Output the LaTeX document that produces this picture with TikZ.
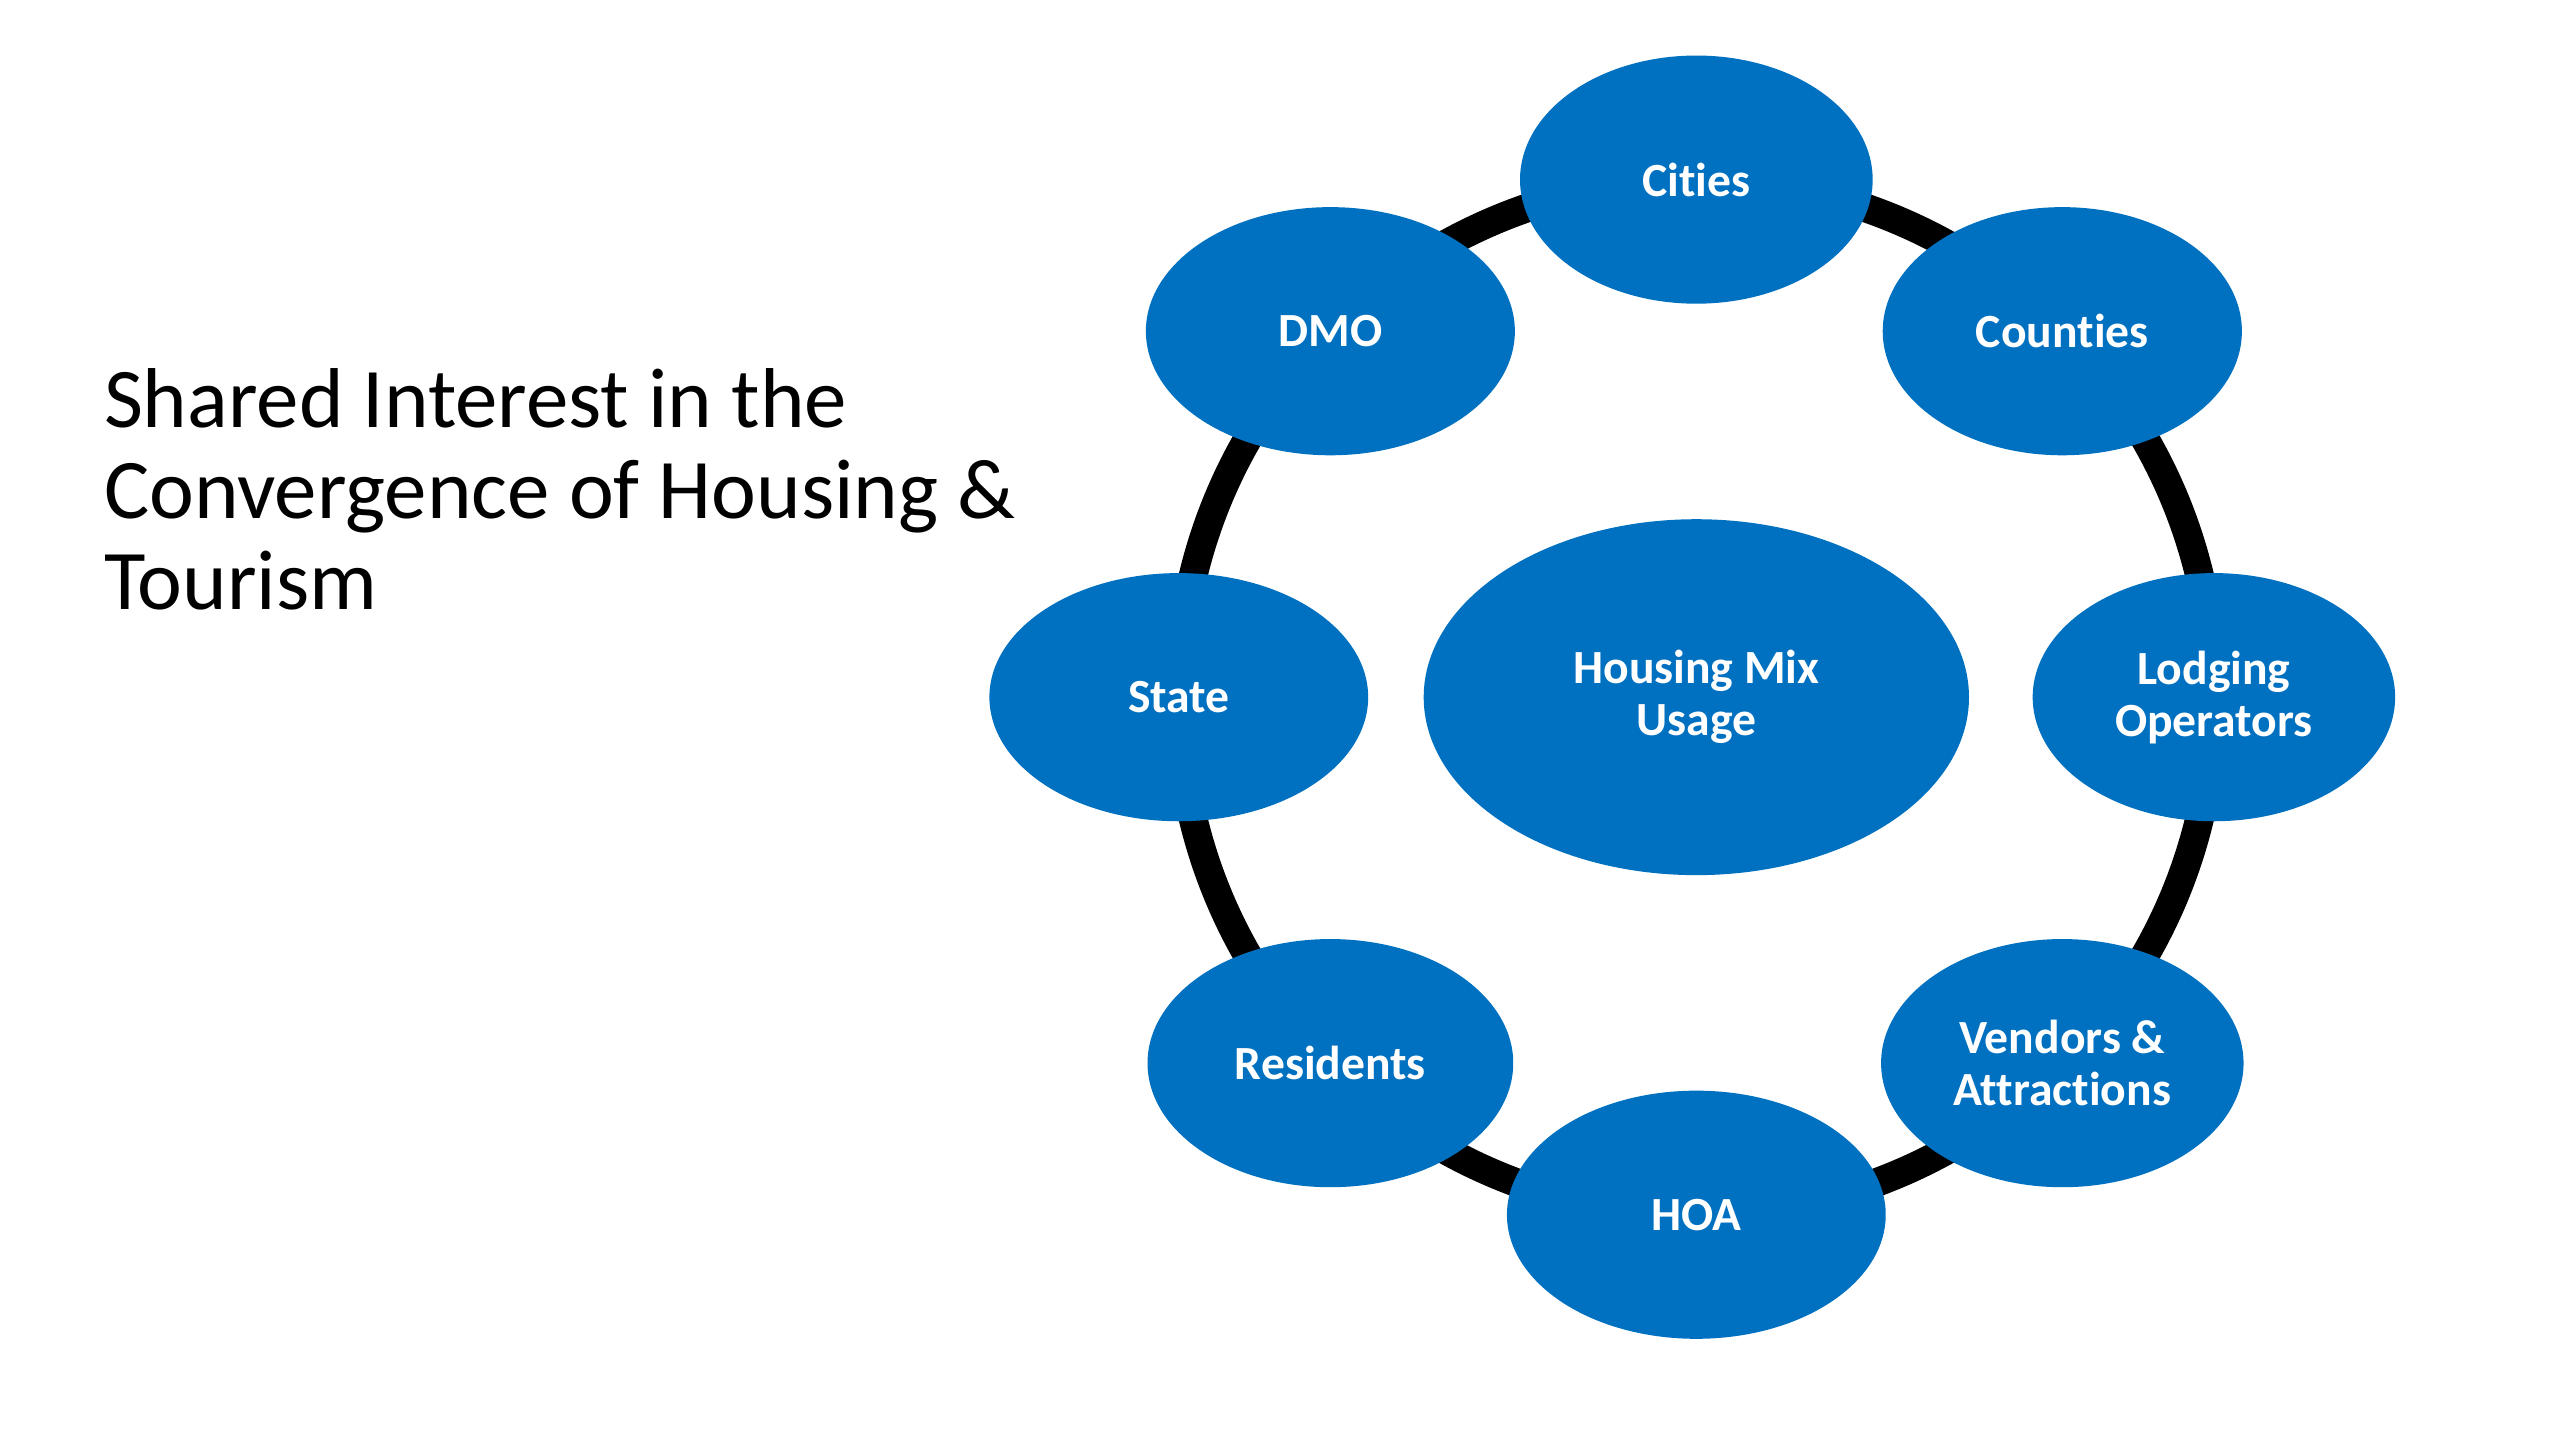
\documentclass[tikz,border=0pt]{standalone}
\usepackage{fontspec}
\setmainfont{Carlito}[Ligatures=NoCommon]
\usepackage{tikz}
\usepackage{xcolor}
\usetikzlibrary{calc,positioning,shapes.geometric}
\definecolor{ringblue}{RGB}{0,112,192}

\begin{document}
\begin{tikzpicture}[
  blob/.style={ellipse,fill=ringblue,draw=none,inner sep=0pt,minimum height=1.52cm,
    text=white,align=center,font=\fontsize{8.3}{9.1}\selectfont\bfseries},
]
  \useasboundingbox (0,0) rectangle (15.68,-8.82);
  \coordinate (hub) at (10.39,-4.27);
  % ring behind the partners
  \draw[line width=5pt] (hub) circle (3.17);
  \node[blob,minimum width=3.34cm,minimum height=2.18cm] (mix) at (hub) {Housing Mix\\Usage};
  \node[blob,minimum width=2.16cm] (cities)   at ([shift={(90:3.17)}]hub)  {Cities};
  \node[blob,minimum width=2.20cm] (counties) at ([shift={(45:3.17)}]hub)  {Counties};
  \node[blob,minimum width=2.22cm] (lodging)  at ([shift={(0:3.17)}]hub)   {Lodging\\Operators};
  \node[blob,minimum width=2.22cm] (vendors)  at ([shift={(-45:3.17)}]hub) {Vendors \&\\Attractions};
  \node[blob,minimum width=2.32cm] (hoa)      at ([shift={(-90:3.17)}]hub) {HOA};
  \node[blob,minimum width=2.24cm] (res)      at ([shift={(-135:3.17)}]hub) {Residents};
  \node[blob,minimum width=2.32cm] (state)    at ([shift={(180:3.17)}]hub) {State};
  \node[blob,minimum width=2.26cm] (dmo)      at ([shift={(135:3.17)}]hub) {DMO};
  % title
  \node[anchor=north west,inner sep=0pt,align=left,font=\fontsize{14.8}{15.9}\selectfont]
    (title) at (0.63,-2.25) {Shared Interest in the\\Convergence of Housing \&\\Tourism};
\end{tikzpicture}
\end{document}
